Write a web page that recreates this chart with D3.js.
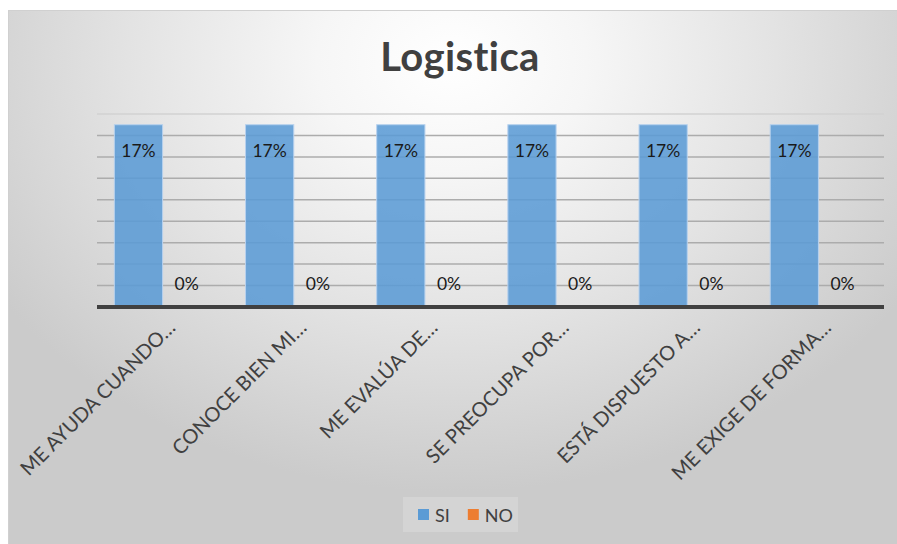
<!DOCTYPE html>
<html>
<head>
<meta charset="utf-8">
<script src="https://cdn.jsdelivr.net/npm/d3@7"></script>
<style>
  html, body { margin: 0; padding: 0; background: #ffffff; }
  svg { display: block; font-family: Lato, "Open Sans", sans-serif; }
</style>
</head>
<body>
<svg id="chart" width="897" height="544"></svg>
<script>
// Survey answers per statement
const categories = [
  "ME AYUDA CUANDO…",
  "CONOCE BIEN MI…",
  "ME EVALÚA DE…",
  "SE PREOCUPA POR…",
  "ESTÁ DISPUESTO A…",
  "ME EXIGE DE FORMA…"
];
const seriesNames = ["SI", "NO"];
const siValues = [0.17, 0.17, 0.17, 0.17, 0.17, 0.17];
const noValues = [0, 0, 0, 0, 0, 0];
const gridTicks = [0, 0.02, 0.04, 0.06, 0.08, 0.10, 0.12, 0.14, 0.16, 0.18];
const chartTitle = "Logistica";

const seriesColors = { SI: "#5b9bd5", NO: "#ed7d31" };
const textColor = "#404040";

const svg = d3.select("#chart");
const W = 897, H = 544;

// Chart area background: soft radial gradient, white near the title
const defs = svg.append("defs");
const grad = defs.append("radialGradient")
  .attr("id", "bg")
  .attr("gradientUnits", "userSpaceOnUse")
  .attr("cx", 0).attr("cy", 0).attr("r", 1)
  .attr("gradientTransform", "translate(452,62) scale(540,430)");
[[0, "#ffffff"], [0.25, "#f6f6f6"], [0.6, "#e3e3e3"], [1, "#cbcbcb"]]
  .forEach(([o, c]) => grad.append("stop").attr("offset", o).attr("stop-color", c));

svg.append("rect")
  .attr("x", 8.5).attr("y", 10.5)
  .attr("width", W).attr("height", H)
  .attr("fill", "url(#bg)")
  .attr("stroke", "#d0d0d0").attr("stroke-width", 1);

// Plot geometry
const plot = { left: 97, right: 884, top: 114, bottom: 307 };

const x = d3.scaleBand().domain(categories).range([plot.left, plot.right]);
const xs = d3.scaleBand().domain(seriesNames).range([0, x.bandwidth()])
  .paddingInner(0).paddingOuter(0.36);
const y = d3.scaleLinear().domain([0, 0.18]).range([plot.bottom, plot.top]);

// Horizontal gridlines
svg.append("g")
  .selectAll("line")
  .data(gridTicks.filter(t => t > 0))
  .join("line")
  .attr("x1", plot.left).attr("x2", plot.right)
  .attr("y1", d => y(d)).attr("y2", d => y(d))
  .attr("stroke", d => d === 0.18 ? "#d2d2d2" : "#acacac")
  .attr("stroke-width", 1.5);

// Bars
const rows = categories.map((c, i) => ({ cat: c, SI: siValues[i], NO: noValues[i] }));
const fmt = d3.format(".0%");

const groups = svg.append("g").selectAll("g")
  .data(rows)
  .join("g")
  .attr("transform", d => `translate(${x(d.cat)},0)`);

groups.selectAll("rect")
  .data(d => seriesNames.map(s => ({ s, v: d[s] })))
  .join("rect")
  .attr("x", d => xs(d.s))
  .attr("y", d => y(d.v))
  .attr("width", xs.bandwidth())
  .attr("height", d => y(0) - y(d.v))
  .attr("fill", d => seriesColors[d.s])
  .attr("fill-opacity", 0.88)
  .attr("stroke", "#b7d1ee")
  .attr("stroke-width", 1);

// Data labels
groups.selectAll("text.val")
  .data(d => seriesNames.map(s => ({ s, v: d[s] })))
  .join("text")
  .attr("class", "val")
  .attr("x", d => xs(d.s) + xs.bandwidth() / 2)
  .attr("y", d => d.v > 0 ? y(d.v) + 32 : y(0) - 17)
  .attr("text-anchor", "middle")
  .attr("font-size", 17.5)
  .attr("fill", "#1a1a1a")
  .text(d => fmt(d.v));

// Category axis baseline
svg.append("line")
  .attr("x1", plot.left).attr("x2", plot.right)
  .attr("y1", y(0)).attr("y2", y(0))
  .attr("stroke", "#404040").attr("stroke-width", 4);

// Rotated category labels
svg.append("g").selectAll("text")
  .data(categories)
  .join("text")
  .attr("transform", d => `translate(${x(d) + x.bandwidth() / 2 + 14},${plot.bottom + 22}) rotate(-45)`)
  .attr("text-anchor", "end")
  .attr("font-size", 20)
  .attr("fill", textColor)
  .text(d => d);

// Title
svg.append("text")
  .attr("x", 460).attr("y", 71)
  .attr("text-anchor", "middle")
  .attr("font-size", 40)
  .attr("font-weight", "bold")
  .attr("letter-spacing", 0.4)
  .attr("fill", textColor)
  .text(chartTitle);

// Legend
const legend = svg.append("g").attr("transform", "translate(418,509)");
legend.append("rect")
  .attr("x", -15).attr("y", -12).attr("width", 115).attr("height", 35)
  .attr("fill", "#ffffff").attr("fill-opacity", 0.18);
let lx = 0;
seriesNames.forEach(s => {
  const g = legend.append("g").attr("transform", `translate(${lx},0)`);
  g.append("rect").attr("width", 11).attr("height", 11).attr("fill", seriesColors[s]);
  const t = g.append("text").attr("x", 17).attr("y", 12.5)
    .attr("font-size", 18).attr("fill", textColor).text(s);
  lx += 17 + t.node().getComputedTextLength() + 18;
});
</script>
</body>
</html>
